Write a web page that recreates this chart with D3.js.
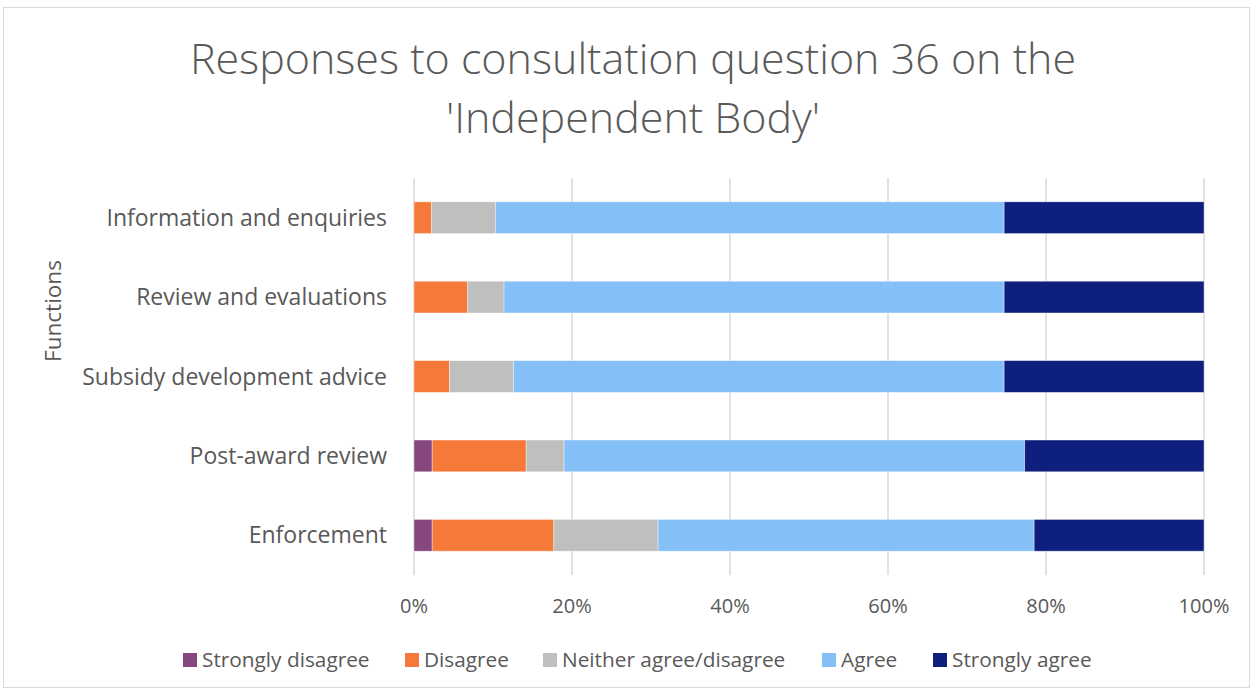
<!DOCTYPE html>
<html>
<head>
<meta charset="utf-8">
<script src="https://cdn.jsdelivr.net/npm/d3@7"></script>
<style>
  body { margin: 0; background: #fff; }
  text { font-family: "Open Sans", Lato, sans-serif; fill: #595959; }
</style>
</head>
<body>
<div class="container"></div>
<script>
const categories = ["Information and enquiries", "Review and evaluations", "Subsidy development advice", "Post-award review", "Enforcement"];
const seriesNames = ["Strongly disagree", "Disagree", "Neither agree/disagree", "Agree", "Strongly agree"];
const stronglyDisagree = [0, 0, 0, 2.3, 2.3];
const disagree = [2.2, 6.8, 4.5, 11.9, 15.4];
const neither = [8.1, 4.6, 8.1, 4.8, 13.2];
const agree = [64.4, 63.3, 62.1, 58.3, 47.6];
const stronglyAgree = [25.3, 25.3, 25.3, 22.7, 21.5];
const xTicks = [0, 20, 40, 60, 80, 100];
const colors = ["#86467E", "#F57A3A", "#BFBFBF", "#85BFF8", "#0F1F7D"];

const W = 1253, H = 691;
const margin = {top: 178, right: 49, bottom: 116, left: 414};
const width = W - margin.left - margin.right;
const height = H - margin.top - margin.bottom;

const svg = d3.select(".container")
  .append("svg")
    .attr("width", W)
    .attr("height", H);

// chart border
svg.append("rect")
  .attr("x", 3.5).attr("y", 7.5)
  .attr("width", 1246).attr("height", 680)
  .attr("fill", "#fff")
  .attr("stroke", "#d9d9d9")
  .attr("stroke-width", 1);

// title
const title = svg.append("text")
  .attr("text-anchor", "middle")
  .style("font-size", "43px")
  .style("font-weight", 300);
title.append("tspan").attr("x", 633).attr("y", 74).text("Responses to consultation question 36 on the");
title.append("tspan").attr("x", 633).attr("y", 133).text("'Independent Body'");

const g = svg.append("g")
  .attr("transform", "translate(" + margin.left + "," + margin.top + ")");

const x = d3.scaleLinear().domain([0, 100]).range([0, width]);
const y = d3.scaleBand().domain(categories).range([0, height]).paddingInner(0.6).paddingOuter(0.3);

// rows for stacking
const rows = categories.map((c, i) => ({
  cat: c,
  "Strongly disagree": stronglyDisagree[i],
  "Disagree": disagree[i],
  "Neither agree/disagree": neither[i],
  "Agree": agree[i],
  "Strongly agree": stronglyAgree[i]
}));
const stack = d3.stack().keys(seriesNames)(rows);

// gridlines
g.selectAll(".grid")
  .data(xTicks)
  .enter()
  .append("line")
    .attr("x1", d => x(d)).attr("x2", d => x(d))
    .attr("y1", 0).attr("y2", height)
    .attr("stroke", "#d9d9d9")
    .attr("stroke-width", 1.5);

// bars
g.selectAll(".series")
  .data(stack)
  .enter()
  .append("g")
    .attr("fill", (d, i) => colors[i])
  .selectAll("rect")
  .data(d => d)
  .enter()
  .append("rect")
    .attr("x", d => x(d[0]))
    .attr("y", d => y(d.data.cat))
    .attr("width", d => x(d[1]) - x(d[0]))
    .attr("height", y.bandwidth())
    .attr("stroke", "#fff")
    .attr("stroke-opacity", 0.5)
    .attr("stroke-width", d => (d[1] - d[0]) > 0 ? 0.75 : 0);

// x tick labels
g.selectAll(".xlab")
  .data(xTicks)
  .enter()
  .append("text")
    .attr("x", d => x(d))
    .attr("y", height + 38)
    .attr("text-anchor", "middle")
    .style("font-size", "20px")
    .text(d => d + "%");

// category labels
g.selectAll(".ylab")
  .data(categories)
  .enter()
  .append("text")
    .attr("x", -27)
    .attr("y", d => y(d) + y.bandwidth() / 2)
    .attr("dy", "0.35em")
    .attr("text-anchor", "end")
    .style("font-size", "23px")
    .text(d => d);

// axis title
svg.append("text")
  .attr("transform", "translate(61,311) rotate(-90)")
  .attr("text-anchor", "middle")
  .style("font-size", "22.5px")
  .text("Functions");

// legend
const legendX = [183, 405, 543, 822, 933];
const legend = svg.selectAll(".legend")
  .data(seriesNames)
  .enter()
  .append("g")
    .attr("transform", (d, i) => "translate(" + legendX[i] + ",653)");
legend.append("rect")
  .attr("width", 14).attr("height", 14)
  .attr("fill", (d, i) => colors[i]);
legend.append("text")
  .attr("x", 19).attr("y", 7)
  .attr("dy", "0.35em")
  .style("font-size", "20.8px")
  .text(d => d);
</script>
</body>
</html>
